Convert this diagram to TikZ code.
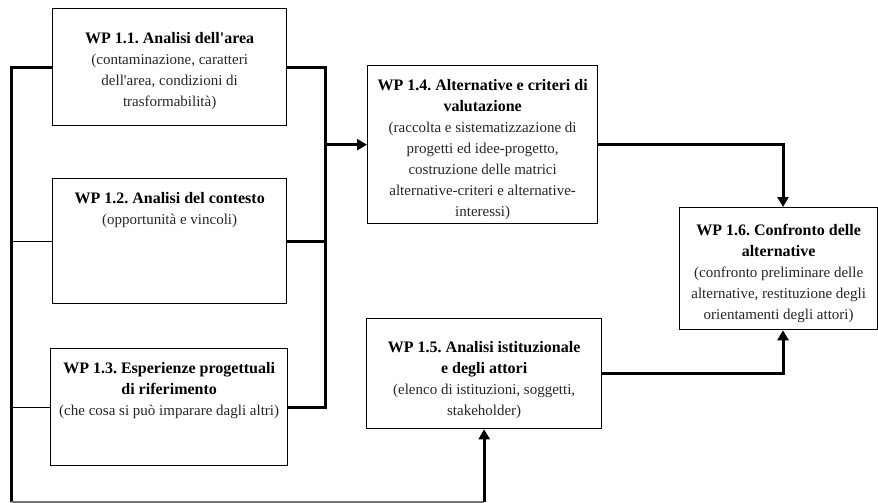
\documentclass[tikz,border=0pt]{standalone}
\usepackage{fontspec}
\setmainfont{Liberation Serif}
\usetikzlibrary{arrows.meta,calc}
\frenchspacing
\newcommand\wptitle[1]{\textcolor{black}{\fontsize{16}{21}\selectfont\textbf{#1}}}
\begin{document}
\begin{tikzpicture}[x=1pt,y=-1pt,
  wpbox/.style={draw, line width=1.3pt, anchor=north west, inner sep=0pt},
  wptext/.style={anchor=north, align=center, inner sep=0pt, text=black!85,
    font=\fontsize{15}{21}\selectfont},
  bus/.style={line width=3pt},
  thinlink/.style={line width=1pt},
  arr/.style={line width=3pt, -{Triangle[width=11pt,length=10pt]}},
]
\useasboundingbox (0,0) rectangle (878,503);

% work package frames
\node[wpbox, minimum width=234pt, minimum height=117pt] (b11) at (52,8) {};
\node[wpbox, minimum width=234pt, minimum height=125pt] (b12) at (52,178) {};
\node[wpbox, minimum width=237pt, minimum height=117pt] (b13) at (50,348) {};
\node[wpbox, minimum width=230pt, minimum height=158pt] (b14) at (367,65) {};
\node[wpbox, minimum width=235pt, minimum height=110pt] (b15) at (366,318) {};
\node[wpbox, minimum width=198pt, minimum height=122pt] (b16) at (679,207) {};

% work package texts
\node[wptext] (t11) at ($(b11.north)+(0,24)$)
  {\wptitle{WP 1.1. Analisi dell\textquotesingle area}\\(contaminazione, caratteri\\dell\textquotesingle area, condizioni di\\trasformabilità)};
\node[wptext] (t12) at ($(b12.north)+(0,14)$)
  {\wptitle{WP 1.2. Analisi del contesto}\\(opportunità e vincoli)};
\node[wptext] (t13) at ($(b13.north)+(0,14)$)
  {\wptitle{WP 1.3. Esperienze progettuali}\\\wptitle{di riferimento}\\(che cosa si può imparare dagli altri)};
\node[wptext] (t14) at ($(b14.north)+(0,14)$)
  {\wptitle{WP 1.4. Alternative e criteri di}\\\wptitle{valutazione}\\(raccolta e sistematizzazione di\\progetti ed idee-progetto,\\costruzione delle matrici\\alternative-criteri e alternative-\\interessi)};
\node[wptext] (t15) at ($(b15.north)+(0,23)$)
  {\wptitle{WP 1.5. Analisi istituzionale}\\\wptitle{e degli attori}\\(elenco di istituzioni, soggetti,\\stakeholder)};
\node[wptext] (t16) at ($(b16.north)+(0,17)$)
  {\wptitle{WP 1.6. Confronto delle}\\\wptitle{alternative}\\(confronto preliminare delle\\alternative, restituzione degli\\orientamenti degli attori)};

% bus columns
\coordinate (lbus) at (11,0);
\coordinate (rbus) at (325,0);
\coordinate (rcol) at (783,0);
\coordinate (corner) at (11,502);

% left bus feeding WP 1.5
\draw[bus] (b11.west) -| (corner);
\draw[thinlink] (b12.west) -- (lbus |- b12.west);
\draw[thinlink] (b13.west) -- (lbus |- b13.west);
\draw[line width=1.2pt, black!55] (corner) -- (b15.south |- corner);
\draw[arr] (b15.south |- corner) -- (b15.south);

% right bus feeding WP 1.4
\draw[bus] (b11.east) -| (rbus |- b13.east) -- (b13.east);
\draw[bus] (b12.east) -- (rbus |- b12.east);
\draw[arr] (rbus |- b14.west) -- (b14.west);

% into WP 1.6
\draw[arr] (b14.east) -| (rcol |- b16.north);
\draw[arr] (b15.east) -| (rcol |- b16.south);
\end{tikzpicture}
\end{document}
